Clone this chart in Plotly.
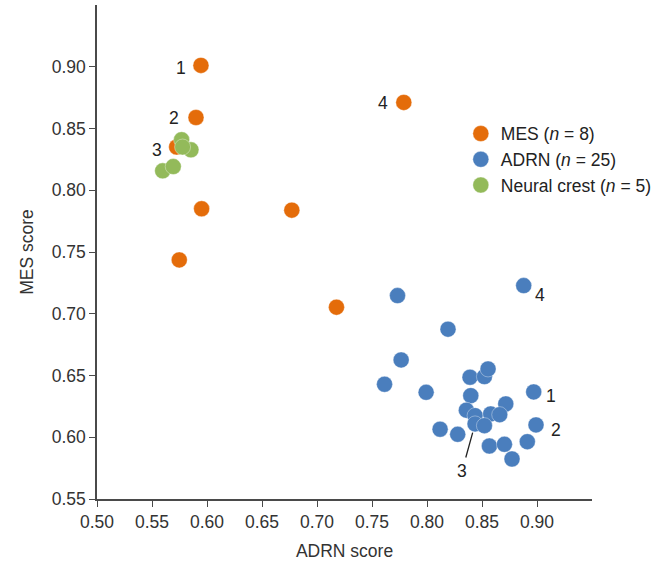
import plotly.graph_objects as go

# ADRN / MES signature scores per sample group
mes_adrn = [0.5945, 0.590, 0.5724, 0.7789, 0.5951, 0.6771, 0.5748, 0.7177]
mes_mes = [0.9011, 0.8589, 0.8350, 0.8711, 0.7850, 0.7839, 0.7436, 0.7053]

adrn_adrn = [0.7732, 0.8879, 0.8191, 0.7765, 0.7614, 0.7992, 0.8391, 0.8522, 0.8555,
             0.8398, 0.8970, 0.8358, 0.8437, 0.8716, 0.8579, 0.8661, 0.8437, 0.8522,
             0.8991, 0.8119, 0.8279, 0.8567, 0.8704, 0.8912, 0.8773]
adrn_mes = [0.7147, 0.7228, 0.6875, 0.6626, 0.6429, 0.6364, 0.6486, 0.6491, 0.6553,
            0.6337, 0.6367, 0.6219, 0.6175, 0.6270, 0.6189, 0.6183, 0.6108, 0.6094,
            0.6100, 0.6065, 0.6024, 0.5929, 0.5943, 0.5964, 0.5824]

nc_adrn = [0.5769, 0.5854, 0.5778, 0.5597, 0.5693]
nc_mes = [0.8409, 0.8327, 0.8350, 0.8157, 0.8192]

x_ticks = [0.50, 0.55, 0.60, 0.65, 0.70, 0.75, 0.80, 0.85, 0.90]
y_ticks = [0.55, 0.60, 0.65, 0.70, 0.75, 0.80, 0.85, 0.90]

# labelled samples: (index, label, xshift, yshift)
mes_labels = [(0, "1", -20, -3), (1, "2", -22, 0), (2, "3", -20, -3), (3, "4", -21, -1)]
adrn_labels = [(1, "4", 16, -9), (10, "1", 17, -4), (18, "2", 20, -5)]
adrn_arrow = (16, "3", -13, 47)

ORANGE = "#E46C0A"
BLUE = "#4A7EBD"
GREEN = "#93BA5A"
FONT = "Liberation Sans, Arial, sans-serif"
FS = 17.5

fig = go.Figure()
groups = [
    ("MES (<i>n</i> = 8)", mes_adrn, mes_mes, ORANGE),
    ("ADRN (<i>n</i> = 25)", adrn_adrn, adrn_mes, BLUE),
    ("Neural crest (<i>n</i> = 5)", nc_adrn, nc_mes, GREEN),
]
for i, (name, xs, ys, col) in enumerate(groups):
    fig.add_trace(go.Scatter(
        x=xs, y=ys, mode="markers", name=name, legendgroup=str(i),
        marker=dict(size=16, color=col, line=dict(width=0.6, color="rgba(255,255,255,0.6)")),
    ))

for idx, txt, dx, dy in mes_labels:
    fig.add_annotation(x=mes_adrn[idx], y=mes_mes[idx], text=txt, showarrow=False,
                       xshift=dx, yshift=dy, font=dict(size=FS, color="#222", family=FONT))
for idx, txt, dx, dy in adrn_labels:
    fig.add_annotation(x=adrn_adrn[idx], y=adrn_mes[idx], text=txt, showarrow=False,
                       xshift=dx, yshift=dy, font=dict(size=FS, color="#222", family=FONT))
idx, txt, ax, ay = adrn_arrow
fig.add_annotation(x=adrn_adrn[idx], y=adrn_mes[idx], text=txt, showarrow=True,
                   ax=ax, ay=ay, arrowhead=0, arrowwidth=1.3, arrowcolor="#222",
                   standoff=9, startstandoff=2,
                   font=dict(size=FS, color="#222", family=FONT))

axis_common = dict(
    showgrid=False, zeroline=False, showline=True, linecolor="#4a4a4a", linewidth=1.5,
    ticks="outside", ticklen=6, tickwidth=1.3, tickcolor="#4a4a4a",
    tickfont=dict(size=FS, color="#333", family=FONT),
    title_font=dict(size=FS, color="#333", family=FONT),
)
fig.update_xaxes(range=[0.5, 0.95], tickvals=x_ticks,
                 ticktext=[f"{v:.2f}" for v in x_ticks],
                 title_text="ADRN score", title_standoff=14, **axis_common)
fig.update_yaxes(range=[0.55, 0.95], tickvals=y_ticks,
                 ticktext=[f"{v:.2f}" for v in y_ticks],
                 title_text="MES score", title_standoff=14, **axis_common)

fig.update_layout(
    width=653, height=569,
    margin=dict(l=97, r=61, t=5, b=70, autoexpand=False),
    plot_bgcolor="white", paper_bgcolor="white",
    font=dict(family=FONT, color="#333"),
    legend=dict(x=0.735, y=0.776, xanchor="left", yanchor="top",
                font=dict(size=FS, color="#222", family=FONT),
                traceorder="grouped", tracegroupgap=0,
                bgcolor="rgba(0,0,0,0)"),
)

fig.write_html("out.html")
